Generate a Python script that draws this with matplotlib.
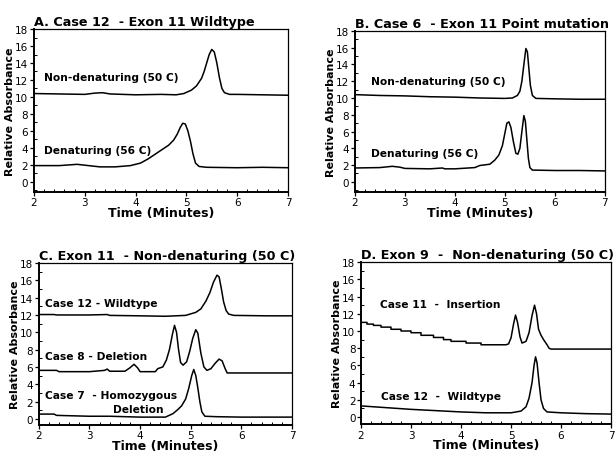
import matplotlib
matplotlib.use( 'Agg' )
import matplotlib.pyplot as plt
from matplotlib.ticker import MultipleLocator

#***********************************************************************
#
# DATA
#
#***********************************************************************

# panel A - case 12, exon 11 wildtype
tA_non = [2.0, 2.5, 3.0, 3.2, 3.35, 3.5, 4.0, 4.5, 4.8, 4.95, 5.1, 5.2, 5.3, 5.35, 5.4,
          5.45, 5.5, 5.55, 5.6, 5.65, 5.7, 5.75, 5.85, 6.0, 6.5, 7.0]
yA_non = [10.4, 10.35, 10.3, 10.45, 10.5, 10.35, 10.25, 10.3, 10.25, 10.4, 10.8, 11.3, 12.2, 13.0, 14.0,
          15.0, 15.6, 15.3, 14.0, 12.3, 11.0, 10.5, 10.3, 10.3, 10.25, 10.2]
tA_den = [2.0, 2.5, 2.85, 3.0, 3.3, 3.6, 3.9, 4.1, 4.25, 4.4, 4.55, 4.65, 4.75, 4.82, 4.88,
          4.93, 4.98, 5.03, 5.08, 5.13, 5.18, 5.25, 5.4, 6.0, 6.5, 7.0]
yA_den = [1.9, 1.9, 2.05, 1.95, 1.75, 1.75, 1.9, 2.2, 2.7, 3.3, 3.9, 4.3, 4.9, 5.6, 6.4,
          6.9, 6.8, 6.0, 4.8, 3.3, 2.2, 1.8, 1.7, 1.65, 1.7, 1.65]

# panel B - case 6, exon 11 point mutation
tB_non = [2.0, 2.5, 3.0, 3.5, 4.0, 4.5, 5.0, 5.15, 5.25, 5.3, 5.34, 5.38, 5.42, 5.45, 5.48,
          5.51, 5.55, 5.62, 6.0, 6.5, 7.0]
yB_non = [10.4, 10.3, 10.25, 10.15, 10.1, 10.0, 9.95, 10.0, 10.3, 10.8, 12.0, 14.0, 15.9, 15.5, 13.5,
          11.5, 10.3, 9.95, 9.9, 9.85, 9.85]
tB_den = [2.0, 2.5, 2.75, 2.9, 3.0, 3.5, 3.75, 3.8, 4.0, 4.4, 4.5, 4.7, 4.8, 4.88, 4.95,
          5.0, 5.04, 5.08, 5.12, 5.17, 5.22, 5.26, 5.3, 5.34, 5.38, 5.41, 5.44, 5.47, 5.5, 5.55,
          6.0, 6.5, 7.0]
yB_den = [1.65, 1.7, 1.85, 1.75, 1.6, 1.55, 1.65, 1.55, 1.55, 1.7, 1.95, 2.1, 2.6, 3.2, 4.3,
          5.8, 7.0, 7.15, 6.5, 4.8, 3.4, 3.3, 4.0, 6.0, 7.9, 7.2, 5.0, 2.8, 1.7, 1.4,
          1.35, 1.35, 1.3]

# panel C - exon 11, non-denaturing
tC_12 = [2.0, 2.3, 2.35, 3.0, 3.35, 3.4, 4.0, 4.5, 4.9, 5.1, 5.2, 5.3, 5.38, 5.45, 5.52,
         5.56, 5.6, 5.65, 5.7, 5.75, 5.85, 6.5, 7.0]
yC_12 = [12.05, 12.05, 12.0, 12.0, 12.05, 11.95, 11.9, 11.85, 11.95, 12.3, 12.7, 13.6, 14.6, 15.8, 16.6,
         16.4, 15.2, 13.5, 12.5, 12.1, 11.95, 11.9, 11.9]
tC_8 = [2.0, 2.35, 2.4, 3.0, 3.3, 3.35, 3.4, 3.7, 3.8, 3.88, 3.95, 4.0, 4.3, 4.35, 4.45,
        4.52, 4.58, 4.64, 4.68, 4.72, 4.76, 4.8, 4.85, 4.92, 4.98, 5.04, 5.1, 5.14, 5.2, 5.26,
        5.32, 5.4, 5.48, 5.56, 5.62, 5.68, 5.72, 6.0, 6.5, 7.0]
yC_8 = [5.6, 5.6, 5.45, 5.45, 5.6, 5.75, 5.5, 5.5, 5.9, 6.3, 5.9, 5.45, 5.45, 5.8, 6.0,
        6.8, 8.0, 9.8, 10.8, 10.0, 8.0, 6.5, 6.2, 6.6, 7.8, 9.3, 10.3, 9.9, 7.6, 6.0,
        5.6, 5.8, 6.4, 6.9, 6.7, 5.8, 5.3, 5.3, 5.3, 5.3]
tC_7 = [2.0, 2.3, 2.35, 3.0, 3.4, 4.0, 4.5, 4.65, 4.75, 4.82, 4.9, 4.96, 5.02, 5.06, 5.1,
        5.14, 5.18, 5.22, 5.28, 5.5, 6.0, 7.0]
yC_7 = [0.55, 0.55, 0.4, 0.3, 0.3, 0.2, 0.2, 0.6, 1.1, 1.5, 2.3, 3.5, 5.0, 5.7, 5.0,
        3.6, 2.0, 0.8, 0.3, 0.25, 0.2, 0.2]

# panel D - exon 9, non-denaturing
tD_11 = [2.0, 2.12, 2.12, 2.25, 2.25, 2.4, 2.4, 2.6, 2.6, 2.8, 2.8, 3.0, 3.0, 3.2, 3.2,
         3.45, 3.45, 3.65, 3.65, 3.8, 3.8, 4.1, 4.1, 4.4, 4.4, 4.9, 4.95, 5.0, 5.05, 5.09,
         5.13, 5.18, 5.22, 5.3, 5.36, 5.42, 5.47, 5.51, 5.55, 5.6, 5.65, 5.72, 5.76, 5.8, 6.5,
         7.0]
yD_11 = [11.0, 11.0, 10.8, 10.8, 10.65, 10.65, 10.45, 10.45, 10.2, 10.2, 10.0, 10.0, 9.8, 9.8, 9.5,
         9.5, 9.25, 9.25, 9.0, 9.0, 8.8, 8.8, 8.6, 8.6, 8.4, 8.4, 8.5, 9.2, 10.8, 11.85,
         11.0, 9.3, 8.6, 8.8, 9.8, 11.8, 13.0, 12.0, 10.2, 9.5, 9.0, 8.4, 8.0, 7.9, 7.9,
         7.9]
tD_12 = [2.0, 2.5, 3.0, 3.5, 4.0, 4.5, 5.0, 5.2, 5.3, 5.36, 5.42, 5.46, 5.49, 5.52, 5.56,
         5.6, 5.65, 5.72, 6.0, 6.5, 7.0]
yD_12 = [1.3, 1.1, 0.9, 0.75, 0.6, 0.5, 0.5, 0.7, 1.2, 2.2, 4.0, 6.0, 7.0, 6.3, 4.0,
         2.0, 1.0, 0.6, 0.5, 0.4, 0.35]

#***********************************************************************
#
# PANEL LAYOUT
#
#***********************************************************************
panels = [
    # title, axes rect, ylim bottom, traces, labels (x, y, text)
    ( 'A. Case 12  - Exon 11 Wildtype', [0.055, 0.577, 0.4125, 0.357], -1.2,
      [(tA_non, yA_non), (tA_den, yA_den)],
      [(2.2, 12.4, 'Non-denaturing (50 C)'), (2.2, 3.7, 'Denaturing (56 C)')] ),
    ( 'B. Case 6  - Exon 11 Point mutation', [0.576, 0.577, 0.406, 0.353], -1.2,
      [(tB_non, yB_non), (tB_den, yB_den)],
      [(2.32, 12.0, 'Non-denaturing (50 C)'), (2.32, 3.4, 'Denaturing (56 C)')] ),
    ( 'C. Exon 11  - Non-denaturing (50 C)', [0.063, 0.066, 0.411, 0.355], -0.7,
      [(tC_12, yC_12), (tC_8, yC_8), (tC_7, yC_7)],
      [(2.13, 13.4, 'Case 12 - Wildtype'), (2.13, 7.25, 'Case 8 - Deletion'),
       (2.13, 2.7, 'Case 7  - Homozygous'), (3.46, 1.15, 'Deletion')] ),
    ( 'D. Exon 9  -  Non-denaturing (50 C)', [0.586, 0.068, 0.406, 0.355], -0.8,
      [(tD_11, yD_11), (tD_12, yD_12)],
      [(2.38, 13.1, 'Case 11  -  Insertion'), (2.4, 2.45, 'Case 12  -  Wildtype')] ),
]

fig = plt.figure( figsize = (6.16, 4.56), dpi = 100 )

for title, rect, ybot, traces, labels in panels:
    ax = fig.add_axes( rect )
    for t, y in traces:
        ax.plot( t, y, color = 'black', lw = 1.1 )
    for x, y, s in labels:
        ax.text( x, y, s, fontsize = 7.7, fontweight = 'bold', va = 'center', ha = 'left' )

    ax.set_xlim( 2, 7 )
    ax.set_ylim( ybot, 18 )
    ax.xaxis.set_major_locator( MultipleLocator( 1 ) )
    ax.xaxis.set_minor_locator( MultipleLocator( 0.2 ) )
    ax.yaxis.set_major_locator( MultipleLocator( 2 ) )
    ax.yaxis.set_minor_locator( MultipleLocator( 1 ) )
    ax.tick_params( which = 'major', direction = 'out', length = 3, width = 0.9, labelsize = 7.5, pad = 1 )
    ax.tick_params( which = 'minor', direction = 'in', length = 2, width = 0.7 )

    for side in ['left', 'bottom']:
        ax.spines[side].set_linewidth( 1.4 )
    for side in ['top', 'right']:
        ax.spines[side].set_linewidth( 0.9 )

    ax.set_title( title, loc = 'left', fontsize = 9.2, fontweight = 'bold', pad = 3 )
    ax.set_xlabel( 'Time (Minutes)', fontsize = 9, fontweight = 'bold', labelpad = -1 )
    ax.set_ylabel( 'Relative Absorbance', fontsize = 8, fontweight = 'bold', labelpad = 0 )

fig.savefig( 'out.png', dpi = 100 )
